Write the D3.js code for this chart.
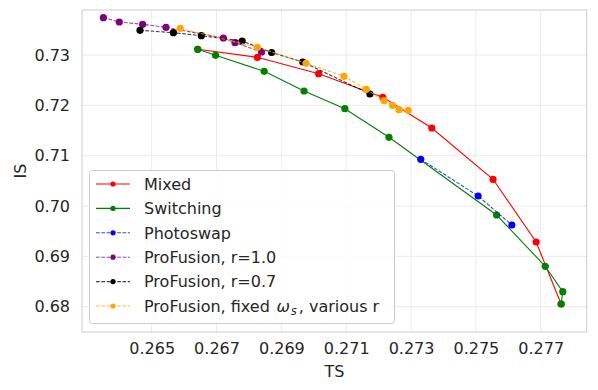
<!DOCTYPE html>
<html><head><meta charset="utf-8">
<script src="https://cdn.jsdelivr.net/npm/d3@7"></script>
<style>body{margin:0;background:#fff}svg{display:block}text{font-family:"DejaVu Sans",sans-serif}</style>
</head><body><svg id="c" width="598" height="390"></svg>
<script>
const xTicks = [0.265, 0.267, 0.269, 0.271, 0.273, 0.275, 0.277];
const yTicks = [0.68, 0.69, 0.70, 0.71, 0.72, 0.73];
const mixedTS = [0.26642, 0.26826, 0.27015, 0.27213, 0.27364, 0.27553, 0.27686, 0.27763];
const mixedIS = [0.73113, 0.72954, 0.72629, 0.72160, 0.71550, 0.70531, 0.69285, 0.68054];
const switchTS = [0.26642, 0.26697, 0.26847, 0.26970, 0.27096, 0.27232, 0.27564, 0.27714, 0.27768, 0.27763];
const switchIS = [0.73113, 0.72994, 0.72676, 0.72285, 0.71933, 0.71365, 0.69822, 0.68803, 0.68298, 0.68054];
const photoTS = [0.27330, 0.27507, 0.27611];
const photoIS = [0.70928, 0.70199, 0.69623];
const pf10TS = [0.26351, 0.26400, 0.26472, 0.26544, 0.26721, 0.26757, 0.26839];
const pf10IS = [0.73741, 0.73656, 0.73610, 0.73550, 0.73338, 0.73244, 0.73060];
const pf07TS = [0.26464, 0.26567, 0.26653, 0.26779, 0.26870, 0.26966, 0.27173];
const pf07IS = [0.73491, 0.73443, 0.73383, 0.73278, 0.73050, 0.72861, 0.72225];
const pfFixTS = [0.26588, 0.26826, 0.26976, 0.27093, 0.27162, 0.27217, 0.27243, 0.27263, 0.27291];
const pfFixIS = [0.73530, 0.73153, 0.72835, 0.72577, 0.72319, 0.72092, 0.72001, 0.71913, 0.71901];
const seriesNames = ["Mixed", "Switching", "Photoswap", "ProFusion, r=1.0", "ProFusion, r=0.7", "ProFusion, fixed ωs, various r"];
const seriesColors = ["red", "green", "blue", "purple", "black", "orange"];
const seriesDashed = [false, false, true, true, true, true];
const seriesTS = [mixedTS, switchTS, photoTS, pf10TS, pf07TS, pfFixTS];
const seriesIS = [mixedIS, switchIS, photoIS, pf10IS, pf07IS, pfFixIS];

const svg = d3.select("#c");
const L = 82, R = 586.7, T = 10, B = 332;
const x = d3.scaleLinear().domain([0.262850, 0.278419]).range([L, R]);
const y = d3.scaleLinear().domain([0.674974, 0.738939]).range([B, T]);

// grid
const g = svg.append("g");
g.selectAll(".gx").data(xTicks).join("line").attr("x1", d => x(d)).attr("x2", d => x(d))
  .attr("y1", T).attr("y2", B).attr("stroke", "#ebebeb").attr("stroke-width", 1);
g.selectAll(".gy").data(yTicks).join("line").attr("y1", d => y(d)).attr("y2", d => y(d))
  .attr("x1", L).attr("x2", R).attr("stroke", "#ebebeb").attr("stroke-width", 1);

// axes (labels only)
const xa = svg.append("g").attr("transform", `translate(0,${B})`)
  .call(d3.axisBottom(x).tickValues(xTicks).tickFormat(d3.format(".3f")).tickSize(0).tickPadding(11));
const ya = svg.append("g").attr("transform", `translate(${L},0)`)
  .call(d3.axisLeft(y).tickValues(yTicks).tickFormat(d3.format(".2f")).tickSize(0).tickPadding(12));
[xa, ya].forEach(a => {
  a.select(".domain").remove();
  a.selectAll("text").attr("font-size", 16).attr("fill", "#262626").attr("font-family", "DejaVu Sans");
});

svg.append("rect").attr("x", L).attr("y", T).attr("width", R - L).attr("height", B - T)
  .attr("fill", "none").attr("stroke", "#cccccc").attr("stroke-width", 1);

svg.append("text").attr("x", (L + R) / 2).attr("y", 377).attr("text-anchor", "middle")
  .attr("font-size", 16).attr("fill", "#262626").text("TS");
svg.append("text").attr("transform", `translate(26,${(T + B) / 2}) rotate(-90)`).attr("text-anchor", "middle")
  .attr("font-size", 16).attr("fill", "#262626").text("IS");

// series
const line = d3.line().x(d => x(d[0])).y(d => y(d[1]));
seriesNames.forEach((name, i) => {
  const pts = seriesTS[i].map((v, j) => [v, seriesIS[i][j]]);
  const sg = svg.append("g");
  sg.append("path").attr("d", line(pts)).attr("fill", "none").attr("stroke", seriesColors[i])
    .attr("stroke-width", 1.1).attr("stroke-opacity", seriesDashed[i] ? 0.75 : 1)
    .attr("stroke-dasharray", seriesDashed[i] ? "3.7,1.6" : null);
  sg.selectAll("circle").data(pts).join("circle").attr("cx", d => x(d[0])).attr("cy", d => y(d[1]))
    .attr("r", 3.6).attr("fill", seriesColors[i]);
});

// legend
const lg = svg.append("g");
lg.append("rect").attr("x", 89.5).attr("y", 170.5).attr("width", 305).attr("height", 153).attr("rx", 3)
  .attr("fill", "white").attr("fill-opacity", 0.8).attr("stroke", "#cccccc").attr("stroke-width", 1);
seriesNames.forEach((name, i) => {
  const cy = 184 + i * 24.4;
  lg.append("line").attr("x1", 96).attr("x2", 130).attr("y1", cy).attr("y2", cy)
    .attr("stroke", seriesColors[i]).attr("stroke-width", 1.1).attr("stroke-opacity", seriesDashed[i] ? 0.75 : 1)
    .attr("stroke-dasharray", seriesDashed[i] ? "3.7,1.6" : null);
  lg.append("circle").attr("cx", 113).attr("cy", cy).attr("r", 2.6).attr("fill", seriesColors[i]);
  const t = lg.append("text").attr("x", 144).attr("y", cy + 5.8).attr("font-size", 16).attr("fill", "#262626");
  if (name.indexOf("ωs") >= 0) {
    const parts = name.split("ωs");
    t.append("tspan").text(parts[0]);
    t.append("tspan").attr("font-style", "italic").attr("dx", 1.5).text("ω");
    t.append("tspan").attr("font-style", "italic").attr("font-size", 11.5).attr("dx", 1).attr("dy", 3).text("s");
    t.append("tspan").attr("dy", -3).attr("dx", 2).text(parts[1]);
  } else t.text(name);
});
</script></body></html>
